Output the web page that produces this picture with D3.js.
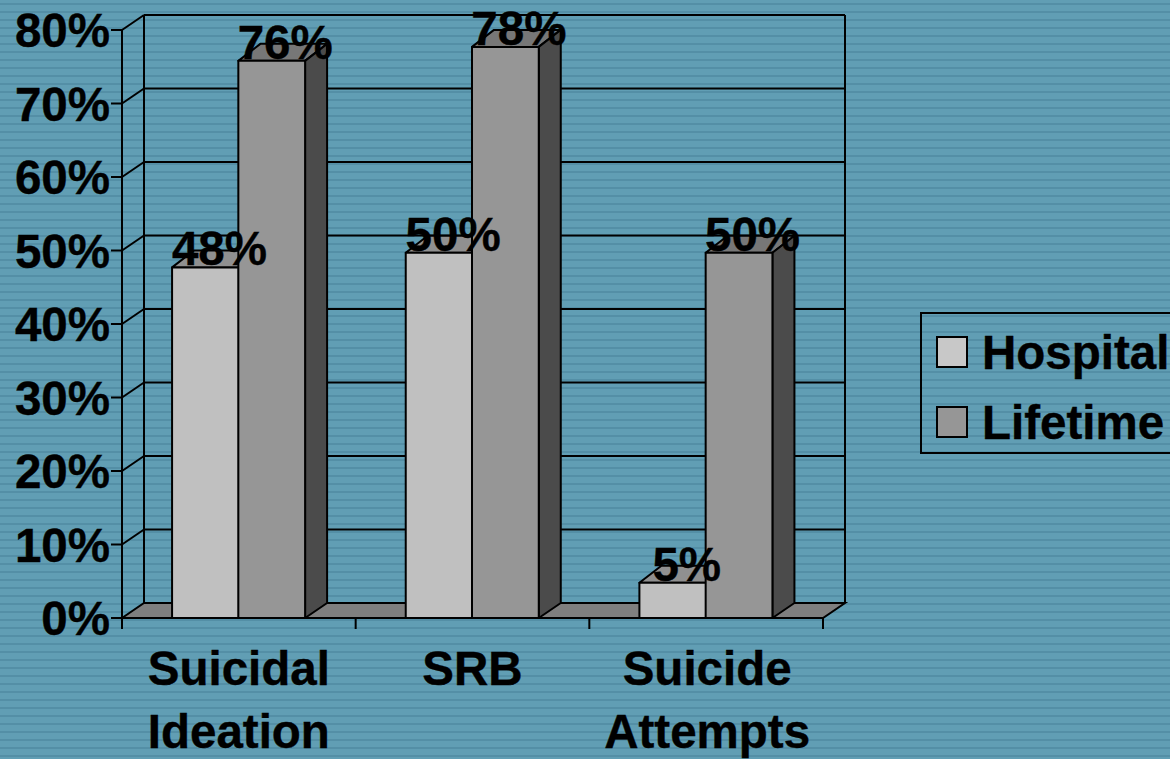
<!DOCTYPE html>
<html>
<head>
<meta charset="utf-8">
<script src="https://cdn.jsdelivr.net/npm/d3@7"></script>
<style>
html, body { margin: 0; padding: 0; background: #619eb4; overflow: hidden; }
text { font-family: "Liberation Sans", Arial, sans-serif; font-weight: bold; fill: #000; stroke: #000; stroke-width: 0.4px; }
</style>
</head>
<body>
<div id="chart"></div>
<script>
const categories = [["Suicidal", "Ideation"], ["SRB"], ["Suicide", "Attempts"]]
const seriesNames = ["Hospital", "Lifetime"]
const hospital = [47.7, 49.7, 4.8]
const lifetime = [75.8, 77.7, 49.7]
const yTicks = [0, 10, 20, 30, 40, 50, 60, 70, 80]

const width = 1170, height = 759
const plotLeft = 122, plotRight = 823, plotTop = 30, plotBottom = 618
const depthX = 22, depthY = -15
const barDepthX = 22, barDepthY = -17

const svg = d3.select("#chart").append("svg")
  .attr("width", width)
  .attr("height", height)
  .style("display", "block")

// striped slide background
const defs = svg.append("defs")
const pat = defs.append("pattern")
  .attr("id", "stripes")
  .attr("patternUnits", "userSpaceOnUse")
  .attr("width", 8).attr("height", 8)
pat.append("rect").attr("width", 8).attr("height", 8).attr("fill", "#619eb4")
pat.append("rect").attr("y", 3).attr("width", 8).attr("height", 2).attr("fill", "#548fa6")
svg.append("rect").attr("width", width).attr("height", height).attr("fill", "url(#stripes)")

const y = d3.scaleLinear().domain([0, 80]).range([plotBottom, plotTop])
const xCat = d3.scaleBand().domain(d3.range(categories.length)).range([plotLeft, plotRight])
const xSer = d3.scaleBand().domain(seriesNames).range([0, xCat.bandwidth()]).paddingInner(0).paddingOuter(0.75)

const line = (ax, ay, bx, by, w) => svg.append("line")
  .attr("x1", ax).attr("y1", ay).attr("x2", bx).attr("y2", by)
  .attr("stroke", "#000").attr("stroke-width", w || 2)

// floor
svg.append("path")
  .attr("d", `M${plotLeft},${plotBottom}L${plotLeft + depthX},${plotBottom + depthY}L${plotRight + depthX},${plotBottom + depthY}L${plotRight},${plotBottom}Z`)
  .attr("fill", "#7f7f7f").attr("stroke", "#000").attr("stroke-width", 2)

// gridlines on side and back walls
yTicks.forEach(t => {
  if (t > 0) {
    line(plotLeft, y(t), plotLeft + depthX, y(t) + depthY)
    line(plotLeft + depthX, y(t) + depthY, plotRight + depthX, y(t) + depthY)
  }
  line(plotLeft - 11, y(t), plotLeft, y(t))
})
line(plotLeft, y(0), plotLeft, y(80))
line(plotLeft + depthX, y(0) + depthY, plotLeft + depthX, y(80) + depthY)
line(plotRight + depthX, y(0) + depthY, plotRight + depthX, y(80) + depthY)
line(plotLeft, plotBottom, plotRight, plotBottom)
d3.range(categories.length + 1).forEach(i => {
  const xt = i < categories.length ? xCat(i) : plotRight
  line(xt, plotBottom, xt, plotBottom + 11)
})

function drawBar(cx, v, front, topCol, side) {
  const w = xSer.bandwidth(), yt = y(v)
  const g = svg.append("g").attr("stroke", "#000").attr("stroke-width", 2).attr("stroke-linejoin", "round")
  g.append("path").attr("fill", topCol)
    .attr("d", `M${cx},${yt}L${cx + barDepthX},${yt + barDepthY}L${cx + w + barDepthX},${yt + barDepthY}L${cx + w},${yt}Z`)
  g.append("path").attr("fill", side)
    .attr("d", `M${cx + w},${yt}L${cx + w + barDepthX},${yt + barDepthY}L${cx + w + barDepthX},${plotBottom + depthY}L${cx + w},${plotBottom}Z`)
  g.append("rect").attr("x", cx).attr("y", yt).attr("width", w).attr("height", plotBottom - yt).attr("fill", front)
}

// hospital first, the lifetime bar covers its side face
categories.forEach((c, i) => {
  drawBar(xCat(i) + xSer("Hospital"), hospital[i], "#c0c0c0", "#909090", "#606060")
  drawBar(xCat(i) + xSer("Lifetime") - 0.5, lifetime[i], "#969696", "#777777", "#4b4b4b")
})

// data labels
const labelSize = 47.5
categories.forEach((c, i) => {
  svg.append("text").attr("x", xCat(i) + xSer("Hospital") + xSer.bandwidth() / 2 + 14).attr("y", y(hospital[i]) - 2)
    .attr("text-anchor", "middle").style("font-size", labelSize + "px").text(Math.round(hospital[i]) + "%")
  svg.append("text").attr("x", xCat(i) + xSer("Lifetime") + xSer.bandwidth() / 2 + 13).attr("y", y(lifetime[i]) - 2)
    .attr("text-anchor", "middle").style("font-size", labelSize + "px").text(Math.round(lifetime[i]) + "%")
})

// y tick labels
yTicks.forEach(t => {
  svg.append("text").attr("x", 110).attr("y", y(t) + 17)
    .attr("text-anchor", "end").style("font-size", labelSize + "px").text(t + "%")
})

// category labels
categories.forEach((c, i) => {
  c.forEach((s, j) => {
    svg.append("text").attr("x", xCat(i) + xCat.bandwidth() / 2 + (i == 2 ? 1 : 0)).attr("y", 685 + j * 63)
      .attr("text-anchor", "middle").style("font-size", labelSize + "px").text(s)
  })
})

// legend
const legend = svg.append("g")
legend.append("rect").attr("x", 921).attr("y", 313).attr("width", 260).attr("height", 140)
  .attr("fill", "none").attr("stroke", "#000").attr("stroke-width", 2)
const legendFill = d3.scaleOrdinal().domain(seriesNames).range(["#c8c8c8", "#969696"])
seriesNames.forEach((s, i) => {
  legend.append("rect").attr("x", 937).attr("y", 337 + i * 70).attr("width", 30).attr("height", 30)
    .attr("fill", legendFill(s)).attr("stroke", "#000").attr("stroke-width", 2)
  legend.append("text").attr("x", 982).attr("y", 369 + i * 70).style("font-size", labelSize + "px").text(s)
})
</script>
</body>
</html>
